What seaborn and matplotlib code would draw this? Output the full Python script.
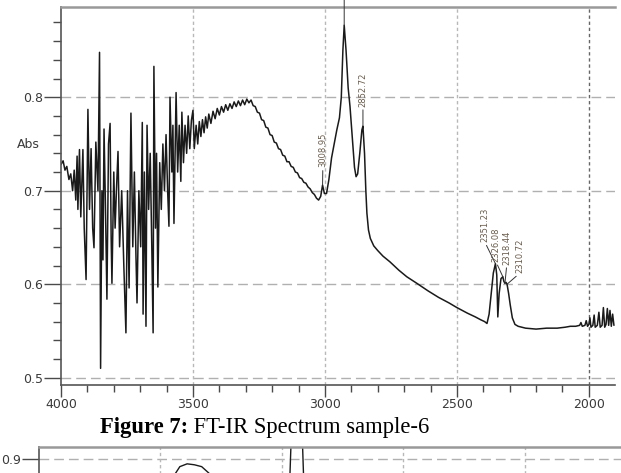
import matplotlib
matplotlib.use("Agg")
import matplotlib.pyplot as plt
import seaborn as sns
import pandas as pd
from matplotlib.ticker import MultipleLocator, FixedLocator

# ---------------- data ----------------
wavenumber = [
    4000, 3992, 3985, 3978, 3970, 3963, 3956, 3950, 3944, 3939, 3936, 3930, 3925,
    3917, 3912, 3905, 3898, 3892, 3886, 3880, 3875, 3868, 3860, 3854, 3850, 3845,
    3841, 3837, 3832, 3826, 3820, 3814, 3810, 3807, 3800, 3795, 3790, 3784, 3778,
    3770, 3762, 3754, 3748, 3742, 3735, 3728, 3722, 3716, 3712, 3705, 3698, 3692,
    3689, 3684, 3678, 3674, 3668, 3662, 3656, 3651, 3648, 3642, 3638, 3633, 3626,
    3620, 3614, 3608, 3602, 3596, 3591, 3587, 3580, 3576, 3572, 3564, 3558, 3552,
    3546, 3542, 3536, 3530, 3524, 3518, 3512, 3506, 3500,
    3495, 3488, 3482, 3476, 3470, 3464, 3458, 3452, 3446, 3440, 3432, 3424, 3416,
    3408, 3400, 3392, 3384, 3376, 3368, 3360, 3352, 3344, 3336, 3328, 3320, 3312,
    3304, 3296, 3288, 3280, 3272, 3264, 3256, 3248, 3240, 3232, 3224, 3216, 3208,
    3200, 3192, 3184, 3176, 3168, 3160, 3152, 3144, 3136, 3128, 3120, 3112, 3104,
    3096, 3088, 3080, 3072, 3064, 3056, 3048, 3040, 3032, 3024, 3016, 3009, 3002,
    2994, 2985, 2975, 2965, 2955, 2945, 2938, 2932, 2927, 2920, 2912, 2905, 2897,
    2888, 2882, 2876, 2868, 2860, 2856, 2850, 2845, 2841, 2835, 2828, 2815, 2800,
    2780, 2754, 2720, 2690, 2652, 2610, 2570, 2530, 2500, 2460, 2430, 2410, 2395,
    2386, 2378, 2370, 2362, 2354, 2349, 2345, 2340, 2333, 2326, 2322, 2318, 2314,
    2310, 2304, 2298, 2290, 2280, 2268, 2240, 2200, 2160, 2120, 2090, 2070, 2050,
    2035, 2030, 2025, 2015, 2010, 2005, 2000, 1996, 1992, 1985, 1980, 1976, 1968,
    1962, 1957, 1950, 1945, 1940, 1935, 1930, 1925, 1920, 1915, 1910, 1905,
]
absorbance = [
    0.728, 0.732, 0.722, 0.726, 0.712, 0.718, 0.700, 0.722, 0.690, 0.737, 0.680, 0.744, 0.672,
    0.744, 0.660, 0.605, 0.787, 0.680, 0.745, 0.660, 0.639, 0.752, 0.700, 0.848, 0.510, 0.700,
    0.626, 0.766, 0.690, 0.584, 0.750, 0.772, 0.650, 0.601, 0.720, 0.660, 0.700, 0.742, 0.640,
    0.700, 0.620, 0.548, 0.700, 0.596, 0.783, 0.640, 0.720, 0.630, 0.580, 0.700, 0.640, 0.773,
    0.568, 0.720, 0.555, 0.770, 0.680, 0.740, 0.640, 0.548, 0.833, 0.660, 0.740, 0.597, 0.730,
    0.680, 0.750, 0.700, 0.760, 0.700, 0.662, 0.800, 0.720, 0.770, 0.665, 0.805, 0.720, 0.770,
    0.710, 0.784, 0.730, 0.770, 0.740, 0.780, 0.745, 0.775, 0.786,
    0.745, 0.770, 0.750, 0.774, 0.758, 0.776, 0.762, 0.779, 0.767, 0.782, 0.772, 0.785, 0.777,
    0.788, 0.781, 0.790, 0.784, 0.792, 0.786, 0.793, 0.788, 0.795, 0.790, 0.796, 0.791, 0.797,
    0.792, 0.798, 0.794, 0.797, 0.791, 0.790, 0.784, 0.783, 0.776, 0.775, 0.768, 0.767, 0.760,
    0.759, 0.752, 0.751, 0.745, 0.744, 0.738, 0.737, 0.731, 0.731, 0.726, 0.725, 0.720, 0.719,
    0.714, 0.713, 0.709, 0.708, 0.704, 0.702, 0.698, 0.696, 0.692, 0.690, 0.694, 0.706, 0.697,
    0.697, 0.712, 0.735, 0.750, 0.765, 0.778, 0.800, 0.850, 0.877, 0.850, 0.810, 0.790, 0.760,
    0.725, 0.715, 0.718, 0.740, 0.765, 0.769, 0.740, 0.700, 0.676, 0.658, 0.649, 0.641, 0.636,
    0.630, 0.624, 0.615, 0.608, 0.601, 0.593, 0.586, 0.580, 0.575, 0.569, 0.565, 0.562, 0.560,
    0.558, 0.568, 0.590, 0.612, 0.622, 0.610, 0.565, 0.590, 0.606, 0.608, 0.603, 0.601, 0.602,
    0.600, 0.590, 0.578, 0.564, 0.557, 0.555, 0.553, 0.552, 0.553, 0.553, 0.554, 0.555, 0.555,
    0.556, 0.559, 0.555, 0.556, 0.561, 0.555, 0.557, 0.564, 0.554, 0.556, 0.567, 0.554, 0.556,
    0.570, 0.554, 0.556, 0.575, 0.554, 0.557, 0.574, 0.556, 0.572, 0.555, 0.568, 0.556,
]

# peak annotations
peak_labels = ["3008.95", "2852.72", "2351.23", "2326.08", "2318.44", "2310.72"]
peak_wn = [3009, 2856, 2354, 2326, 2318, 2310]
label_wn = [3008, 2856, 2394, 2352, 2311, 2261]
label_abs = [0.725, 0.790, 0.645, 0.624, 0.621, 0.612]
unlabelled_peak_wn = [2927]

# next figure (only its top strip is visible)
wavenumber_next = [4000, 3800, 3600, 3500, 3450, 3420, 3390, 3360, 3330, 3300,
                   3200, 3050, 2980, 2938, 2900, 2860, 2700, 2400, 2000, 1500]
absorbance_next = [0.72, 0.74, 0.80, 0.85, 0.880, 0.892, 0.895, 0.894, 0.892, 0.885,
                   0.84, 0.76, 0.78, 1.10, 0.80, 0.85, 0.65, 0.60, 0.58, 0.57]

x_major = [4000, 3500, 3000, 2500, 2000]
y_major = [0.5, 0.6, 0.7, 0.8]
caption_bold = "Figure 7:"
caption_rest = " FT-IR Spectrum sample-6"
y_label = "Abs"

# ---------------- styling ----------------
sns.set_style("white")
plt.rcParams["font.family"] = ["DejaVu Sans"]

W, H = 621, 473
fig = plt.figure(figsize=(W / 100, H / 100), dpi=100)

def px_axes(left, top, right, bottom):
    return [left / W, 1 - bottom / H, (right - left) / W, (bottom - top) / H]

ax = fig.add_axes(px_axes(61, 7, 615, 385))
df = pd.DataFrame({"wavenumber": wavenumber, "absorbance": absorbance})
sns.lineplot(data=df, x="wavenumber", y="absorbance", sort=False, estimator=None,
             color="#1a1a1a", lw=1.1, ax=ax)

ax.set_xlim(4000, 1901)
ax.set_ylim(0.4922, 0.8965)
ax.set_xlabel("")
ax.set_ylabel("")

tick_col = "#4a4a4a"
ax.xaxis.set_major_locator(FixedLocator(x_major))
ax.xaxis.set_minor_locator(MultipleLocator(100))
ax.yaxis.set_major_locator(FixedLocator(y_major))
ax.yaxis.set_minor_locator(MultipleLocator(0.02))
ax.tick_params(axis="x", which="major", direction="out", length=8.5, width=1.0,
               color=tick_col, labelcolor="#3a3a3a", labelsize=9, pad=1, bottom=True)
ax.tick_params(axis="x", which="minor", direction="out", length=5, width=1.0,
               color=tick_col, bottom=True)
ax.tick_params(axis="y", which="major", direction="out", length=12, width=1.0,
               color=tick_col, labelcolor="#3a3a3a", labelsize=9, pad=0.8, left=True)
ax.tick_params(axis="y", which="minor", direction="out", length=6, width=1.0,
               color=tick_col, left=True)
ax.set_xticklabels([str(v) for v in x_major])
ax.set_yticklabels([f"{v:.1f}" for v in y_major])

for side in ("left", "bottom"):
    ax.spines[side].set_color("#555555")
    ax.spines[side].set_linewidth(1.2)
ax.spines["top"].set_color("#999999")
ax.spines["top"].set_linewidth(1.8)
ax.spines["right"].set_visible(False)

# grid
for yv in y_major:
    ax.axhline(yv, color="#b0b0b0", lw=1.0, ls=(0, (7, 3.6)), zorder=0)
for xv in x_major[1:]:
    c = "#666666" if xv == 2000 else "#b8b8b8"
    ax.axvline(xv, color=c, lw=1.0, ls=(0, (2.4, 2.0)), zorder=0)

# annotations
wn_to_abs = dict(zip(wavenumber, absorbance))
for lab, pw, lw_, la in zip(peak_labels, peak_wn, label_wn, label_abs):
    ax.annotate(lab, xy=(pw, wn_to_abs[pw]), xytext=(lw_, la), rotation=90,
                ha="center", va="bottom", fontsize=6, color="#6a5c4c",
                arrowprops=dict(arrowstyle="-", lw=0.7, color="#333333",
                                shrinkA=0, shrinkB=0, relpos=(0.5, 0.0)))
for pw in unlabelled_peak_wn:
    ax.annotate("", xy=(pw, wn_to_abs[pw]), xytext=(pw, 0.93),
                annotation_clip=False,
                arrowprops=dict(arrowstyle="-", lw=0.7, color="#333333",
                                shrinkA=0, shrinkB=0))

fig.text(28 / W, 1 - 145 / H, y_label, ha="center", va="center",
         fontsize=9, color="#3a3a3a")

# caption
cap_size = 16.3
t1 = fig.text(100 / W, 1 - 427 / H, caption_bold, fontsize=cap_size, weight="bold",
              family="Liberation Serif", ha="left", va="center", color="black")
fig.canvas.draw()
bb = t1.get_window_extent()
fig.text(bb.x1 / W, 1 - 427 / H, caption_rest, fontsize=cap_size,
         family="Liberation Serif", ha="left", va="center", color="black")

# next figure, top strip
ax2 = fig.add_axes(px_axes(39, 447, 39 + 607, 447 + 378))
df2 = pd.DataFrame({"wavenumber": wavenumber_next, "absorbance": absorbance_next})
sns.lineplot(data=df2, x="wavenumber", y="absorbance", sort=False, estimator=None,
             color="#1a1a1a", lw=1.0, ax=ax2)
ax2.set_xlim(4000, 1500)
ax2.set_ylim(0.509, 0.913)
ax2.set_xlabel("")
ax2.set_ylabel("")
ax2.xaxis.set_major_locator(FixedLocator(x_major))
ax2.set_xticklabels([])
ax2.tick_params(axis="x", bottom=False)
ax2.yaxis.set_major_locator(FixedLocator([0.9]))
ax2.set_yticklabels(["0.9"])
ax2.tick_params(axis="y", which="major", direction="out", length=12, width=1.0,
                color=tick_col, labelcolor="#3a3a3a", labelsize=9, pad=0.8, left=True)
ax2.spines["left"].set_color("#555555")
ax2.spines["left"].set_linewidth(1.2)
ax2.spines["top"].set_color("#999999")
ax2.spines["top"].set_linewidth(1.8)
ax2.spines["right"].set_visible(False)
ax2.spines["bottom"].set_visible(False)
ax2.axhline(0.9, color="#b0b0b0", lw=1.0, ls=(0, (7, 3.6)), zorder=0)
for xv in x_major[1:]:
    ax2.axvline(xv, color="#b8b8b8", lw=1.0, ls=(0, (2.4, 2.0)), zorder=0)

fig.savefig("out.png", dpi=100)
